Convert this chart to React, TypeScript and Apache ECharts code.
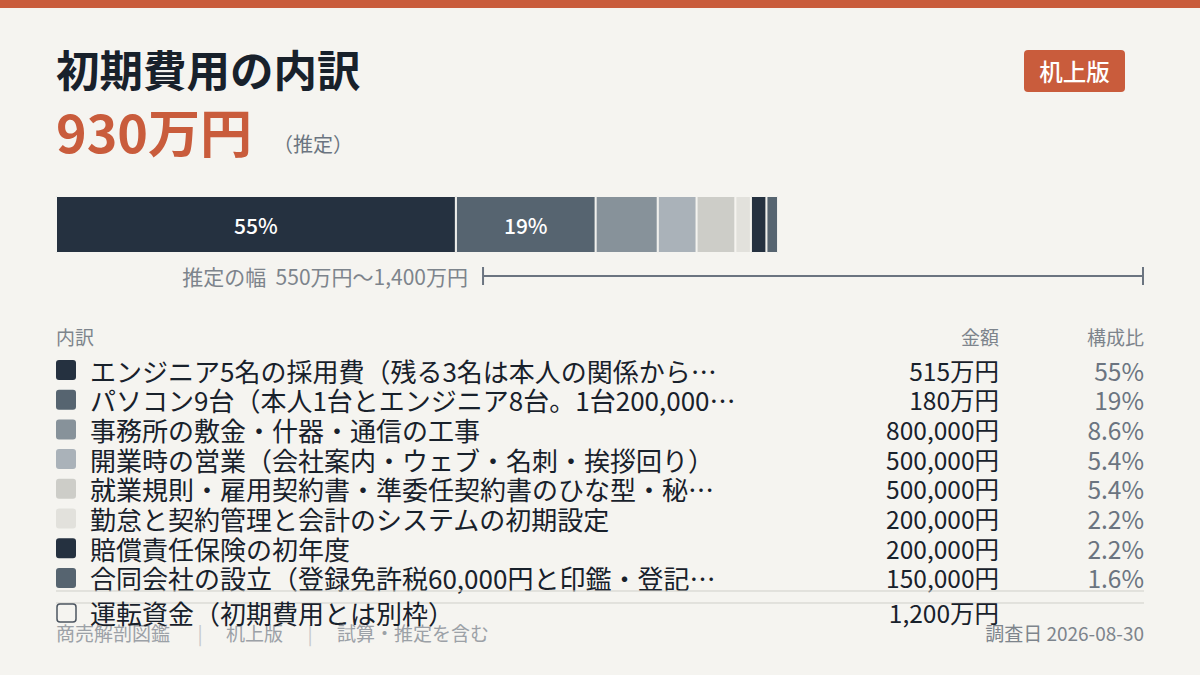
import React, { useEffect, useRef } from "react";
import * as echarts from "echarts";

// ---- data ----
const titleText = "初期費用の内訳";
const estimateNote = "（推定）";
const badgeText = "机上版";
const categories = [
  "エンジニア5名の採用費（残る3名は本人の関係から…",
  "パソコン9台（本人1台とエンジニア8台。1台200,000…",
  "事務所の敷金・什器・通信の工事",
  "開業時の営業（会社案内・ウェブ・名刺・挨拶回り）",
  "就業規則・雇用契約書・準委任契約書のひな型・秘…",
  "勤怠と契約管理と会計のシステムの初期設定",
  "賠償責任保険の初年度",
  "合同会社の設立（登録免許税60,000円と印鑑・登記…",
];
const amounts = [5150000, 1800000, 800000, 500000, 500000, 200000, 200000, 150000];
const workingCapitalLabel = "運転資金（初期費用とは別枠）";
const workingCapital = 12000000;
const rangeLow = 5500000;
const rangeHigh = 14000000;
const rangeLabel = "推定の幅";
const headers = ["内訳", "金額", "構成比"];
const footerLeft = ["商売解剖図鑑", "机上版", "試算・推定を含む"];
const footerRight = "調査日 2026-08-30";

// ---- style ----
const BG = "#f5f4f0";
const ACCENT = "#c95c3c";
const INK = "#18212b";
const MUTED = "#6b7480";
const SOFT = "#7d848c";
const FAINT = "#9ca1a7";
const FONT = '"Noto Sans CJK JP", "Noto Sans", sans-serif';
const palette = ["#253140", "#566470", "#87929a", "#aab2b9", "#cdcdc8", "#e2e1dc", "#253140", "#566470"];

const total = amounts.reduce((a, b) => a + b, 0);
const fmtYen = (v: number) =>
  v >= 1000000 && v % 10000 === 0
    ? (v / 10000).toLocaleString("en-US") + "万円"
    : v.toLocaleString("en-US") + "円";
const pctOf = (v: number) => (v / total) * 100;
const fmtPct = (v: number) => {
  const p = pctOf(v);
  return p >= 10 ? Math.round(p) + "%" : p.toFixed(1) + "%";
};

function txt(x: number, y: number, text: string, size: number, fill: string, align = "left", weight = 400) {
  return {
    type: "text",
    x,
    y,
    silent: true,
    style: {
      text,
      fill,
      font: `${weight} ${size}px ${FONT}`,
      textAlign: align,
      textVerticalAlign: "middle",
      align,
      verticalAlign: "middle",
    },
  };
}

export default function App() {
  const ref = useRef<HTMLDivElement>(null);
  useEffect(() => {
    if (!ref.current) return;
    const chart = echarts.init(ref.current, undefined, { renderer: "svg" });

    const rowY0 = 370;
    const rowStep = 29.7;
    const labelX = 90;
    const amountRight = 999;
    const pctRight = 1144;

    const graphic: any[] = [];
    graphic.push({ type: "rect", shape: { x: 0, y: 0, width: 1200, height: 8 }, style: { fill: ACCENT }, silent: true });
    graphic.push(txt(56, 68, titleText, 43.5, INK, "left", 700));
    graphic.push(txt(56, 130, fmtYen(total), 52, ACCENT, "left", 700));
    graphic.push(txt(273, 143, estimateNote, 20, MUTED, "left", 400));
    graphic.push({
      type: "rect",
      shape: { x: 1024, y: 50, width: 101, height: 42, r: 4 },
      style: { fill: ACCENT },
      silent: true,
    });
    graphic.push(txt(1074.5, 71, badgeText, 23.5, "#ffffff", "center", 500));

    graphic.push(txt(56, 336, headers[0], 19, SOFT));
    graphic.push(txt(amountRight, 336, headers[1], 19, SOFT, "right"));
    graphic.push(txt(pctRight, 336, headers[2], 19, SOFT, "right"));

    categories.forEach((c, i) => {
      const y = rowY0 + i * rowStep;
      graphic.push({
        type: "rect",
        shape: { x: 56, y: y - 10, width: 20, height: 20, r: 3 },
        style: { fill: palette[i] },
        silent: true,
      });
      graphic.push(txt(labelX, y, c, 26, INK));
      graphic.push(txt(amountRight, y, fmtYen(amounts[i]), 24.5, INK, "right"));
      graphic.push(txt(pctRight, y, fmtPct(amounts[i]), 24.5, MUTED, "right"));
    });

    graphic.push({ type: "line", shape: { x1: 56, y1: 591, x2: 1144, y2: 591 }, style: { stroke: "#cfcfc9", lineWidth: 1 }, silent: true });
    graphic.push({ type: "line", shape: { x1: 56, y1: 603, x2: 1144, y2: 603 }, style: { stroke: "#cfcfc9", lineWidth: 1 }, silent: true });

    // footer
    graphic.push(txt(56, 632, footerLeft[0], 19, FAINT));
    graphic.push(txt(200, 632, "|", 19, "#c4c7ca", "center"));
    graphic.push(txt(226, 632, footerLeft[1], 19, FAINT));
    graphic.push(txt(310, 632, "|", 19, "#c4c7ca", "center"));
    graphic.push(txt(337, 632, footerLeft[2], 19, FAINT));
    graphic.push(txt(pctRight, 632, footerRight, 19, SOFT, "right"));

    // working capital row
    graphic.push({
      type: "rect",
      shape: { x: 57, y: 604, width: 19, height: 18, r: 3 },
      style: { fill: BG, stroke: "#4c5560", lineWidth: 1.5 },
      silent: true,
    });
    graphic.push(txt(labelX, 612, workingCapitalLabel, 26, INK));
    graphic.push(txt(amountRight, 612, fmtYen(workingCapital), 24.5, INK, "right"));

    const barSeries = amounts.map((v, i) => ({
      type: "bar",
      name: categories[i],
      stack: "total",
      xAxisIndex: 0,
      yAxisIndex: 0,
      barWidth: "100%",
      data: [v],
      itemStyle: { color: palette[i], borderColor: BG, borderWidth: 1 },
      label: {
        show: pctOf(v) >= 10,
        position: "inside",
        formatter: () => fmtPct(v),
        color: "#ffffff",
        fontSize: 21,
        fontWeight: 500,
        fontFamily: FONT,
      },
      silent: true,
    }));

    const option: any = {
      animation: false,
      backgroundColor: BG,
      grid: [
        { left: 56, top: 196, width: 1087, height: 57 },
        { left: 56, top: 266, width: 1087, height: 20 },
      ],
      xAxis: [
        { type: "value", gridIndex: 0, min: 0, max: rangeHigh, show: false },
        { type: "value", gridIndex: 1, min: 0, max: rangeHigh, show: false },
      ],
      yAxis: [
        { type: "category", gridIndex: 0, data: ["total"], show: false },
        { type: "category", gridIndex: 1, data: ["range"], show: false },
      ],
      graphic,
      series: [
        ...barSeries,
        {
          type: "line",
          xAxisIndex: 1,
          yAxisIndex: 1,
          data: [
            [rangeLow, "range"],
            [rangeHigh, "range"],
          ],
          symbol: "rect",
          symbolSize: [2, 18],
          itemStyle: { color: MUTED },
          lineStyle: { color: MUTED, width: 2 },
          silent: true,
          label: {
            show: true,
            position: "left",
            distance: 14,
            color: SOFT,
            fontSize: 21,
            fontFamily: FONT,
            formatter: (p: any) =>
              p.dataIndex === 0 ? `${rangeLabel}  ${fmtYen(rangeLow)}〜${fmtYen(rangeHigh)}` : "",
          },
        },
      ],
    };
    chart.setOption(option);
    return () => chart.dispose();
  }, []);

  return (
    <div
      ref={ref}
      style={{ position: "fixed", left: 0, top: 0, width: 1200, height: 675 }}
    />
  );
}
